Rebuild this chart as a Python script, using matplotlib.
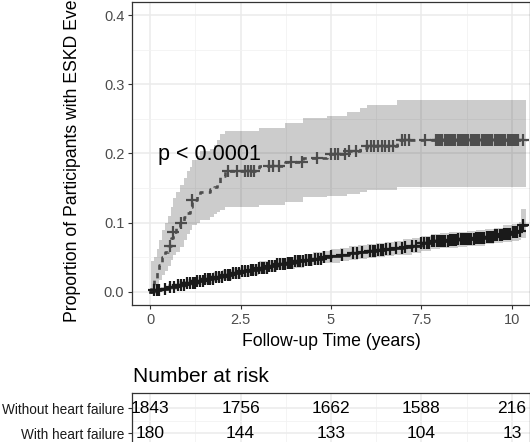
import numpy as np
import matplotlib
matplotlib.use("Agg")
import matplotlib.pyplot as plt
from matplotlib.ticker import MultipleLocator

plt.rcParams['font.family'] = ['Liberation Sans', 'DejaVu Sans']

# --- cumulative ESKD incidence, without heart failure ---
t_wo = [0, 0.1, 0.3, 0.5, 0.75, 1.0, 1.25, 1.5, 1.75, 2.0, 2.25, 2.5, 2.75, 3.0, 3.25,
        3.5, 3.75, 4.0, 4.25, 4.5, 4.75, 5.0, 5.25, 5.5, 5.75, 6.0, 6.25, 6.5, 6.75,
        7.0, 7.25, 7.5, 7.75, 8.0, 8.25, 8.5, 8.75, 9.0, 9.25, 9.5, 9.75, 10.0, 10.2,
        10.25, 10.4]
p_wo = [0, 0.002, 0.004, 0.007, 0.010, 0.013, 0.016, 0.018, 0.021, 0.024, 0.027, 0.030,
        0.032, 0.035, 0.037, 0.040, 0.042, 0.044, 0.046, 0.048, 0.050, 0.052, 0.054,
        0.056, 0.058, 0.059, 0.061, 0.062, 0.063, 0.065, 0.067, 0.070, 0.073, 0.074,
        0.075, 0.076, 0.077, 0.078, 0.080, 0.082, 0.084, 0.086, 0.088, 0.097, 0.097]
lo_wo = [0, 0, 0.001, 0.003, 0.005, 0.008, 0.010, 0.012, 0.014, 0.017, 0.019, 0.022,
         0.024, 0.026, 0.028, 0.031, 0.033, 0.035, 0.037, 0.039, 0.041, 0.042, 0.044,
         0.046, 0.048, 0.049, 0.051, 0.052, 0.053, 0.054, 0.056, 0.059, 0.062, 0.063,
         0.064, 0.065, 0.066, 0.067, 0.069, 0.071, 0.072, 0.074, 0.075, 0.078, 0.078]
hi_wo = [0, 0.005, 0.007, 0.011, 0.015, 0.018, 0.022, 0.024, 0.028, 0.031, 0.035, 0.038,
         0.040, 0.044, 0.046, 0.049, 0.051, 0.053, 0.055, 0.057, 0.059, 0.062, 0.064,
         0.066, 0.068, 0.069, 0.071, 0.072, 0.073, 0.076, 0.078, 0.081, 0.084, 0.085,
         0.086, 0.087, 0.088, 0.089, 0.091, 0.093, 0.096, 0.098, 0.101, 0.120, 0.120]
cens_wo = [0.12, 0.18, 0.25, 0.42, 0.55, 0.66, 0.78, 0.86, 0.95, 1.02, 1.1, 1.18, 1.24,
           1.3, 1.37, 1.45, 1.52, 1.6, 1.66, 1.74, 1.82, 1.9, 1.98, 2.06, 2.15, 2.22,
           2.3, 2.38, 2.47, 2.55, 2.62, 2.7, 2.78, 2.85, 2.92, 3.0, 3.08, 3.15, 3.22,
           3.3, 3.38, 3.45, 3.52, 3.6, 3.66, 3.72, 3.8, 3.86, 3.93, 4.0, 4.08, 4.15,
           4.22, 4.3, 4.38, 4.45, 4.55, 4.63, 4.72, 4.82, 5.0, 5.3, 5.62, 5.72, 5.85,
           6.08, 6.15, 6.22, 6.3, 6.38, 6.45, 6.52, 6.62, 6.8, 6.95, 7.05, 7.25, 7.35,
           7.5, 7.58, 7.66, 7.72, 7.8, 7.86, 7.92, 7.98, 8.04, 8.1, 8.16, 8.22, 8.28,
           8.34, 8.4, 8.46, 8.52, 8.58, 8.64, 8.7, 8.76, 8.82, 8.88, 8.94, 9.0, 9.06,
           9.12, 9.18, 9.24, 9.3, 9.36, 9.42, 9.48, 9.54, 9.6, 9.66, 9.72, 9.78, 9.84,
           9.9, 9.96, 10.02, 10.08, 10.14, 10.22, 10.3]

# --- with heart failure ---
t_w = [0, 0.02, 0.12, 0.19, 0.26, 0.33, 0.42, 0.5, 0.57, 0.64, 0.72, 0.83, 0.93, 1.02,
       1.1, 1.16, 1.3, 1.38, 1.66, 1.78, 1.85, 1.93, 2.07, 3.0, 3.73, 4.23, 4.9, 5.44,
       5.8, 6.0, 6.82, 10.38]
p_w = [0, 0.011, 0.017, 0.028, 0.039, 0.05, 0.058, 0.067, 0.078, 0.087, 0.094, 0.1,
       0.108, 0.114, 0.122, 0.133, 0.139, 0.145, 0.148, 0.152, 0.158, 0.167, 0.174,
       0.182, 0.187, 0.194, 0.199, 0.203, 0.208, 0.211, 0.219, 0.219]
lo_w = [0, 0.002, 0.005, 0.01, 0.017, 0.024, 0.03, 0.037, 0.046, 0.053, 0.058, 0.065,
        0.075, 0.083, 0.09, 0.097, 0.1, 0.104, 0.108, 0.112, 0.116, 0.119, 0.122, 0.126,
        0.13, 0.137, 0.138, 0.142, 0.145, 0.147, 0.152, 0.152]
hi_w = [0, 0.045, 0.05, 0.062, 0.075, 0.09, 0.1, 0.11, 0.122, 0.136, 0.145, 0.155, 0.165,
        0.174, 0.181, 0.19, 0.197, 0.203, 0.206, 0.212, 0.22, 0.228, 0.232, 0.237, 0.244,
        0.252, 0.254, 0.26, 0.266, 0.27, 0.278, 0.278]
cens_w = [0.55, 0.64, 0.86, 1.16, 2.15, 2.4, 2.62, 2.7, 2.8, 2.88, 3.3, 3.4, 3.55, 3.9,
          4.2, 4.6, 5.0, 5.1, 5.2, 5.4, 5.5, 5.7, 6.0, 6.1, 6.2, 6.3, 6.4, 6.5, 6.6, 6.7,
          6.96, 7.05, 7.15, 7.6, 7.9, 7.96, 8.02, 8.08, 8.14, 8.2, 8.26, 8.32, 8.38,
          8.44, 8.5, 8.56, 8.62, 8.68, 8.74, 8.8, 8.86, 8.92, 8.98, 9.04, 9.1, 9.16,
          9.22, 9.28, 9.34, 9.4, 9.46, 9.52, 9.58, 9.64, 9.7, 9.76, 9.82, 9.88, 9.94,
          10.0, 10.06, 10.12, 10.18, 10.3]

# --- number at risk table ---
risk_times = [0, 2.5, 5, 7.5, 10]
risk_wo = [1843, 1756, 1662, 1588, 216]
risk_w = [180, 144, 133, 104, 13]
groups = ["Without heart failure", "With heart failure"]

col_wo = "#1a1a1a"
col_w = "#4d4d4d"


def at(times, vals, c):
    idx = np.searchsorted(times, c, side="right") - 1
    return np.asarray(vals)[idx]


def style_axes(ax):
    ax.set_facecolor("white")
    ax.grid(which="major", color="#ebebeb", lw=1.1)
    ax.grid(which="minor", color="#f2f2f2", lw=0.6)
    ax.set_axisbelow(True)
    for s in ax.spines.values():
        s.set_color("#333333")
        s.set_linewidth(0.9)
    ax.tick_params(which="major", length=3, width=0.8, color="#333333",
                   labelsize=10.5, labelcolor="#4d4d4d", pad=2.5)
    ax.tick_params(which="minor", length=0)


fig = plt.figure(figsize=(5.3, 4.42), dpi=100)
W, H = 530, 442
ax = fig.add_axes([132 / W, 1 - 305 / H, 398 / W, 303 / H])
style_axes(ax)

ax.fill_between(t_w, lo_w, hi_w, step="post", color="black", alpha=0.2, lw=0)
ax.fill_between(t_wo, lo_wo, hi_wo, step="post", color="black", alpha=0.2, lw=0)
ax.step(t_w, p_w, where="post", color=col_w, lw=1.9, linestyle=(0, (2, 2)))
ax.step(t_wo, p_wo, where="post", color=col_wo, lw=1.9)
ax.plot(cens_w, at(t_w, p_w, cens_w), ls="none", marker="+", ms=8, mew=1.6, color=col_w)
ax.plot(cens_wo, at(t_wo, p_wo, cens_wo), ls="none", marker="+", ms=8, mew=1.6, color=col_wo)

ax.text(0.22, 0.199, "p < 0.0001", fontsize=15.5, ha="left", va="center", color="black")

ax.set_xlim(-0.5, 10.5)
ax.set_ylim(-0.019, 0.419)
ax.xaxis.set_major_locator(MultipleLocator(2.5))
ax.xaxis.set_minor_locator(MultipleLocator(1.25))
ax.yaxis.set_major_locator(MultipleLocator(0.1))
ax.yaxis.set_minor_locator(MultipleLocator(0.05))
ax.set_xticks(risk_times)
ax.set_xticklabels(["0", "2.5", "5", "7.5", "10"])
ax.set_yticks([0, 0.1, 0.2, 0.3, 0.4])
ax.set_yticklabels(["0.0", "0.1", "0.2", "0.3", "0.4"])
ax.set_xlabel("Follow-up Time (years)", fontsize=12.7)
ax.set_ylabel("Proportion of Participants with ESKD Event", fontsize=12.7)
ax.xaxis.set_label_coords(0.5, -0.093)
ax.yaxis.set_label_coords(-0.128, 0.5)

# risk table
tab = fig.add_axes([132 / W, 1 - 460 / H, 398 / W, 67 / H])
style_axes(tab)
tab.set_xlim(-0.5, 10.5)
tab.set_ylim(67, 0)
tab.xaxis.set_major_locator(MultipleLocator(2.5))
tab.xaxis.set_minor_locator(MultipleLocator(1.25))
tab.set_yticks([15, 40])
tab.set_yticks([27.5], minor=True)
tab.set_yticklabels(groups, fontsize=9.8, color="#1a1a1a")
tab.tick_params(axis="x", labelbottom=False, length=0)
for x, a, b in zip(risk_times, risk_wo, risk_w):
    tab.text(x, 15, str(a), ha="center", va="center", fontsize=12.5)
    tab.text(x, 40, str(b), ha="center", va="center", fontsize=12.5)
fig.text(133 / W, 1 - 376 / H, "Number at risk", fontsize=15, ha="left", va="center")

fig.savefig("out.png", dpi=100, facecolor="white")
